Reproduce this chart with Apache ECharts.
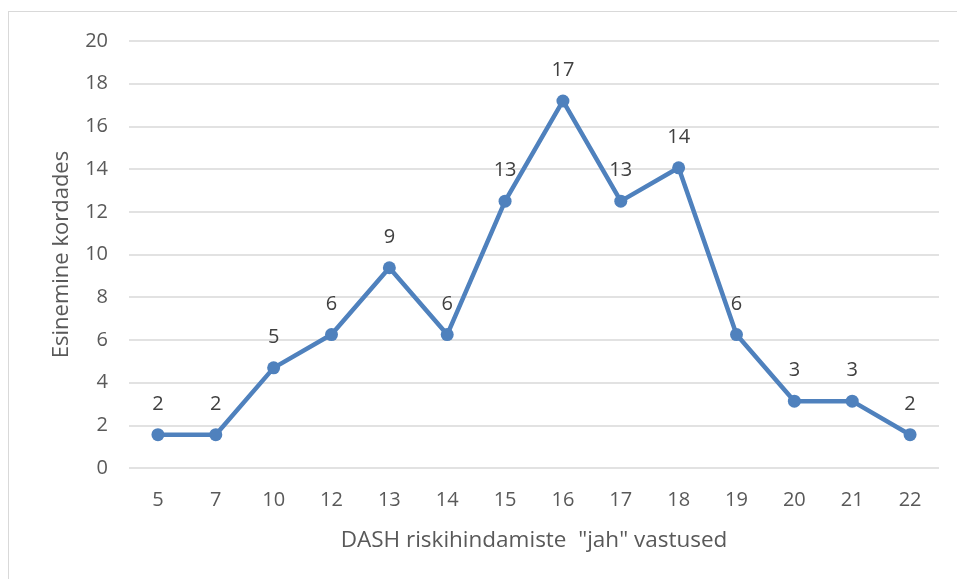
<!DOCTYPE html>
<html lang="et">
<head>
    <meta charset="UTF-8">
    <title>DASH riskihindamiste "jah" vastused</title>
    <script src="https://cdn.jsdelivr.net/npm/echarts@6/dist/echarts.min.js"></script>
    <style type="text/css">
        *{margin:0;padding:0;}
        body{background:#fff;width:957px;height:579px;overflow:hidden;}
        #frame{position:absolute;left:8px;top:11px;width:960px;height:580px;border:1px solid #d9d9d9;}
        #myLineDiv{position:absolute;left:0;top:0;width:957px;height:579px;}
    </style>
</head>
<body>
<div id="frame"></div>
<div id="myLineDiv"></div>

<script type="text/javascript">
    // kategooriad (jah-vastuste arv)
    var categories = ['5', '7', '10', '12', '13', '14', '15', '16', '17', '18', '19', '20', '21', '22'];
    // väärtused (%), loetud pildilt
    var values = [1.56, 1.56, 4.69, 6.25, 9.38, 6.25, 12.5, 17.19, 12.5, 14.06, 6.25, 3.13, 3.13, 1.56];
    // andmesildid nagu pildil
    var pointLabels = [2, 2, 5, 6, 9, 6, 13, 17, 13, 14, 6, 3, 3, 2];
    var yTicks = [0, 2, 4, 6, 8, 10, 12, 14, 16, 18, 20];

    var font = 'Open Sans';
    var myChart = echarts.init(document.getElementById('myLineDiv'));
    var option = {
        backgroundColor: 'transparent',
        animation: false,
        grid: {
            left: 129,
            right: 18,
            top: 41,
            bottom: 111,
            containLabel: false
        },
        xAxis: {
            type: 'category',
            data: categories,
            boundaryGap: true,
            name: 'DASH riskihindamiste  "jah" vastused',
            nameLocation: 'middle',
            nameGap: 61,
            nameTextStyle: {color: '#595959', fontSize: 22.5, fontFamily: font},
            axisLine: {show: false},
            axisTick: {show: false},
            axisLabel: {color: '#595959', fontSize: 20, fontFamily: font, margin: 22}
        },
        yAxis: {
            type: 'value',
            min: yTicks[0],
            max: yTicks[yTicks.length - 1],
            interval: 2,
            name: 'Esinemine kordades',
            nameLocation: 'middle',
            nameGap: 56,
            nameTextStyle: {color: '#595959', fontSize: 22, fontFamily: font},
            axisLine: {show: false},
            axisTick: {show: false},
            axisLabel: {color: '#595959', fontSize: 20, fontFamily: font, margin: 21},
            splitLine: {lineStyle: {color: '#d9d9d9', width: 1.5}}
        },
        series: [{
            type: 'line',
            data: values,
            symbol: 'circle',
            symbolSize: 13,
            lineStyle: {color: '#4f81bd', width: 4.5},
            itemStyle: {color: '#4f81bd'},
            label: {
                show: true,
                position: 'top',
                distance: 14,
                color: '#404040',
                fontSize: 20,
                fontFamily: font,
                formatter: function (p) { return pointLabels[p.dataIndex]; }
            }
        }]
    };
    myChart.setOption(option);
</script>
</body>
</html>
